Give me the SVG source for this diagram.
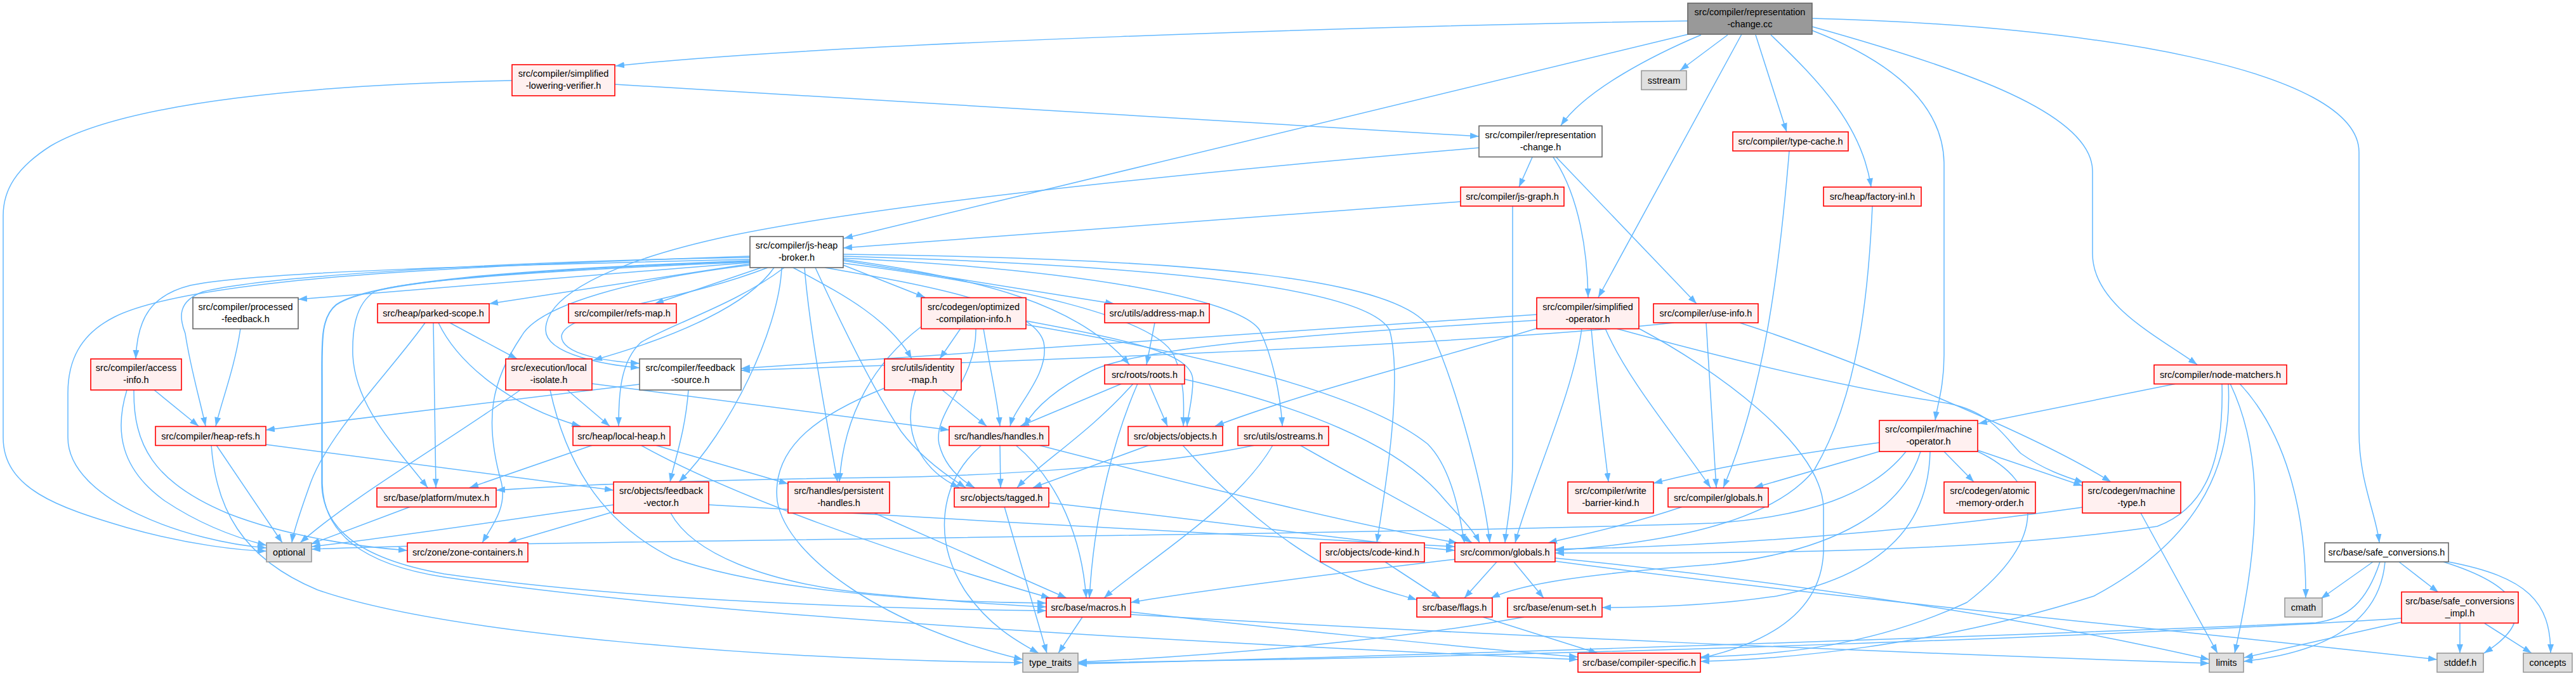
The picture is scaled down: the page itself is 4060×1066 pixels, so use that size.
<svg xmlns="http://www.w3.org/2000/svg" width="4060" height="1066" viewBox="0 0 4060 1066">
<style>
.n rect{stroke-width:1.6}
.rd rect{fill:#fff0f0;stroke:#ff0000}
.gy rect{fill:#e0e0e0;stroke:#999999}
.wh rect{fill:#ffffff;stroke:#666666}
.rt rect{fill:#999999;stroke:#666666}
text{font-family:"Liberation Sans",Arial,sans-serif;font-size:14.5px;text-anchor:middle;fill:#000000}
#edges path{fill:none;stroke:#63b8ff;stroke-width:1.5;marker-end:url(#ah)}
</style>
<defs>
<marker id="ah" viewBox="0 0 14 10" refX="14" refY="5" markerWidth="14" markerHeight="10" markerUnits="userSpaceOnUse" orient="auto"><path d="M0,0L14,5L0,10z" fill="#63b8ff"/></marker>
</defs>
<rect x="0" y="0" width="4060" height="1066" fill="#ffffff"/>
<g id="edges">
<path d="M2660,33 C2200,40 1300,68 970,104"/>
<path d="M2661,54 L1330,376"/>
<path d="M2681,55 C2610,85 2500,140 2460,198"/>
<path d="M2723,55 L2648,111"/>
<path d="M2745,54 L2519,469"/>
<path d="M2767,55 L2816,208"/>
<path d="M2791,55 C2870,130 2935,200 2949,295"/>
<path d="M2856,48 C2990,100 3064,170 3064,260 L3064,560 C3064,610 3053,640 3050,663"/>
<path d="M2856,42 C3100,110 3298,180 3298,270 L3298,400 C3298,480 3400,530 3463,575"/>
<path d="M2856,29 C3300,40 3718,110 3718,240 L3718,680 C3718,760 3745,810 3750,856"/>
<path d="M807,127 C500,133 200,160 80,230 C25,265 5,300 5,340 L5,690 C5,770 90,800 200,832 C300,860 380,868 420,869"/>
<path d="M969,133 L2331,215"/>
<path d="M2415,248 L2394,295"/>
<path d="M2448,248 C2490,310 2502,400 2503,469"/>
<path d="M2453,248 L2674,479"/>
<path d="M2331,233 C1900,270 1400,320 1150,372 C950,415 860,470 860,520 C860,560 960,576 1008,580"/>
<path d="M2820,238 C2805,420 2780,620 2716,769"/>
<path d="M2951,325 C2945,460 2930,620 2860,740 C2790,830 2600,858 2451,868"/>
<path d="M2302,318 L1329,391"/>
<path d="M2384,325 L2384,720 C2384,790 2374,830 2372,856"/>
<path d="M1182,404 C700,420 300,440 180,500 C125,528 107,570 107,620 L107,690 C107,790 300,855 420,864"/>
<path d="M1182,409 C800,418 400,428 300,450 C240,465 216,500 214,566"/>
<path d="M1182,406 C800,412 420,435 320,460 C280,475 282,500 292,526 C300,580 315,630 324,672"/>
<path d="M1182,414 L470,472"/>
<path d="M1182,411 C800,425 580,445 530,480 C505,500 507,540 507,600 L507,760 C507,830 560,880 700,905 C1000,948 1400,960 1649,963"/>
<path d="M1182,412 C800,426 580,446 530,481 C505,501 508,540 508,600 L508,760 C508,840 570,890 700,910 C1100,970 1800,1010 2487,1040"/>
<path d="M1182,413 C900,425 640,440 590,460 C560,480 555,520 556,560 C560,640 620,700 674,769"/>
<path d="M1182,416 L771,479"/>
<path d="M1200,422 L1032,479"/>
<path d="M1220,422 C1180,480 1070,530 935,568"/>
<path d="M1210,422 C1060,480 890,490 885,530 C885,560 960,570 1008,573"/>
<path d="M1236,422 C1160,480 1060,510 1010,540 C978,570 975,620 975,672"/>
<path d="M1329,418 L1458,469"/>
<path d="M1329,411 L1756,479"/>
<path d="M1250,422 C1320,460 1400,500 1437,566"/>
<path d="M1300,422 C1460,450 1630,480 1645,540 C1655,590 1600,640 1592,672"/>
<path d="M1268,422 C1275,510 1295,620 1320,760"/>
<path d="M1232,422 C1228,520 1150,680 1070,760"/>
<path d="M1285,422 C1330,520 1380,620 1420,680 C1450,720 1495,752 1522,769"/>
<path d="M1329,415 C1600,450 1820,500 1850,560 C1868,600 1866,640 1865,672"/>
<path d="M1329,409 C1550,440 1700,480 1780,575"/>
<path d="M1329,407 C1700,425 1950,470 1985,520 C2005,560 2018,620 2021,672"/>
<path d="M1329,404 C1800,418 2150,450 2190,520 C2212,600 2182,780 2170,856"/>
<path d="M1329,401 C1900,408 2210,440 2255,520 C2300,620 2340,780 2348,856"/>
<path d="M1182,418 C1000,440 850,480 822,530 C775,600 762,660 790,760 C800,800 775,830 760,856"/>
<path d="M379,518 C370,580 350,630 340,672"/>
<path d="M670,509 C620,580 520,680 490,760 C472,810 462,840 460,856"/>
<path d="M683,509 L687,769"/>
<path d="M691,509 C720,570 800,640 915,672"/>
<path d="M709,509 L815,566"/>
<path d="M243,615 L313,672"/>
<path d="M200,615 C180,680 190,740 260,790 C320,830 380,850 420,860"/>
<path d="M211,615 C210,700 240,760 360,810 C450,845 560,862 642,868"/>
<path d="M894,615 L961,672"/>
<path d="M933,605 L1496,678"/>
<path d="M867,615 C890,720 940,820 1060,880 C1200,930 1450,950 1649,951"/>
<path d="M820,615 C700,700 560,780 473,856"/>
<path d="M1008,606 L419,678"/>
<path d="M1085,615 C1080,680 1065,720 1056,760"/>
<path d="M1485,615 L1555,672"/>
<path d="M1443,615 C1420,680 1450,740 1512,769"/>
<path d="M1394,612 C1300,650 1215,700 1225,790 C1240,880 1400,990 1612,1040"/>
<path d="M1768,605 L1608,672"/>
<path d="M1786,605 C1720,680 1640,730 1603,769"/>
<path d="M1793,605 C1760,680 1725,800 1717,943"/>
<path d="M1811,605 L1840,672"/>
<path d="M1867,598 C2050,640 2200,700 2270,780 C2300,815 2322,835 2332,856"/>
<path d="M1820,509 L1807,575"/>
<path d="M1452,515 C1380,570 1330,650 1323,760"/>
<path d="M1514,518 L1481,566"/>
<path d="M1538,518 C1540,600 1470,650 1480,700 C1490,740 1520,760 1536,769"/>
<path d="M1550,518 C1560,580 1572,630 1576,672"/>
<path d="M1617,506 C1800,540 1880,560 1880,600 C1880,630 1872,655 1871,672"/>
<path d="M1617,512 C1900,560 2150,620 2250,700 C2290,740 2302,820 2308,856"/>
<path d="M2422,496 L1168,581"/>
<path d="M2422,505 C2100,525 1800,545 1720,585 C1660,615 1630,645 1614,672"/>
<path d="M2422,518 C2250,570 2050,620 1915,672"/>
<path d="M2508,518 C2515,600 2528,700 2535,760"/>
<path d="M2493,518 C2480,620 2410,770 2388,856"/>
<path d="M2530,518 C2565,600 2650,700 2696,769"/>
<path d="M2547,518 C2700,560 2900,610 3070,636 C3140,650 3160,690 3185,715 C3220,740 3255,752 3284,761"/>
<path d="M2583,518 C2700,580 2870,700 2874,800 L2874,870 C2870,980 2760,1020 2680,1038"/>
<path d="M2638,509 C2300,545 1600,570 1168,584"/>
<path d="M2689,509 L2705,769"/>
<path d="M2742,509 C2900,560 3200,680 3327,760"/>
<path d="M3430,605 L3118,668"/>
<path d="M3502,605 C3505,720 3480,800 3400,830 C3100,875 2700,872 2451,872"/>
<path d="M3512,605 C3520,750 3450,860 3300,940 C3050,1020 2800,1040 2680,1043"/>
<path d="M3515,605 C3560,700 3570,820 3522,1030"/>
<path d="M3530,605 C3600,680 3635,800 3634,943"/>
<path d="M2962,698 C2800,720 2700,738 2606,762"/>
<path d="M2962,712 L2765,769"/>
<path d="M3004,712 C2950,780 2850,815 2700,825 C2000,848 900,850 491,866"/>
<path d="M3027,712 C3000,800 2900,870 2700,890 C2500,905 2400,920 2350,943"/>
<path d="M3042,712 C3040,800 3000,900 2800,940 C2700,955 2600,958 2525,958"/>
<path d="M3064,712 L3111,760"/>
<path d="M3117,710 L3282,766"/>
<path d="M3117,712 C3220,760 3230,850 3100,950 C2950,1020 2800,1033 2680,1036"/>
<path d="M341,702 L445,856"/>
<path d="M333,702 C340,800 380,880 500,930 C700,1000 1200,1040 1612,1045"/>
<path d="M419,701 L967,773"/>
<path d="M934,702 L740,769"/>
<path d="M1010,702 C1150,780 1400,870 1655,943"/>
<path d="M1033,702 L1242,763"/>
<path d="M1547,702 C1480,760 1470,850 1520,930 C1560,990 1610,1015 1637,1030"/>
<path d="M1576,702 L1577,769"/>
<path d="M1601,702 C1670,760 1705,850 1712,943"/>
<path d="M1637,702 C1900,770 2150,830 2297,856"/>
<path d="M1811,702 L1628,769"/>
<path d="M1864,702 C1950,800 2050,880 2150,920 C2190,935 2215,940 2233,946"/>
<path d="M1978,702 C1800,740 1500,752 1380,753 C1100,757 900,765 782,773"/>
<path d="M2006,702 C1950,800 1800,890 1740,943"/>
<path d="M2049,702 C2150,760 2250,810 2320,856"/>
<path d="M967,796 C800,820 600,850 491,862"/>
<path d="M967,807 L800,856"/>
<path d="M1117,796 C1500,820 2000,845 2293,862"/>
<path d="M1057,809 C1090,870 1200,920 1380,937 C1500,948 1600,955 1649,957"/>
<path d="M1378,809 L1681,943"/>
<path d="M1583,799 L1650,1030"/>
<path d="M1653,793 C1900,820 2150,855 2293,868"/>
<path d="M2652,799 C2560,830 2480,846 2440,856"/>
<path d="M3282,800 C3000,840 2700,862 2451,866"/>
<path d="M3374,809 L3495,1030"/>
<path d="M2359,886 L2308,943"/>
<path d="M2386,886 L2433,943"/>
<path d="M2293,882 C2100,905 1900,930 1782,950"/>
<path d="M2451,880 C2800,915 3200,975 3482,1040"/>
<path d="M2451,885 C2900,945 3400,990 3841,1040"/>
<path d="M2183,886 L2270,943"/>
<path d="M1706,973 L1668,1030"/>
<path d="M1782,965 C2000,990 2300,1020 2487,1036"/>
<path d="M1782,969 C2300,1000 3000,1030 3482,1046"/>
<path d="M2337,973 L2518,1030"/>
<path d="M2402,973 C2200,1010 1900,1035 1699,1044"/>
<path d="M3740,886 L3658,944"/>
<path d="M3751,886 C3730,950 3700,975 3650,982 C3000,1010 2000,1040 1699,1047"/>
<path d="M3759,886 C3750,990 3650,1030 3536,1043"/>
<path d="M3781,886 L3843,934"/>
<path d="M3851,886 C3960,920 4010,970 3915,1030"/>
<path d="M3859,886 C3985,910 4020,950 4020,1030"/>
<path d="M3785,975 C3400,1000 2500,1035 1699,1045"/>
<path d="M3785,981 L3537,1037"/>
<path d="M3877,983 L3877,1030"/>
<path d="M3916,983 L3990,1030"/>
<path d="M647,799 L490,858"/>
</g>
<g id="n_cc" class="n rt"><rect x="2660" y="5" width="196" height="49"/><text x="2758" y="24">src/compiler/representation</text><text x="2758" y="43">-change.cc</text></g>
<g id="n_verifier" class="n rd"><rect x="807" y="102" width="162" height="49"/><text x="888" y="121">src/compiler/simplified</text><text x="888" y="140">-lowering-verifier.h</text></g>
<g id="n_sstream" class="n gy"><rect x="2587" y="111.5" width="71" height="30"/><text x="2622.5" y="131.5">sstream</text></g>
<g id="n_repchange" class="n wh"><rect x="2331" y="198.5" width="194" height="49"/><text x="2428" y="217.5">src/compiler/representation</text><text x="2428" y="236.5">-change.h</text></g>
<g id="n_typecache" class="n rd"><rect x="2731" y="208" width="182" height="30"/><text x="2822" y="228">src/compiler/type-cache.h</text></g>
<g id="n_jsgraph" class="n rd"><rect x="2302" y="295" width="163" height="30"/><text x="2383.5" y="315">src/compiler/js-graph.h</text></g>
<g id="n_factoryinl" class="n rd"><rect x="2874" y="295" width="154" height="30"/><text x="2951" y="315">src/heap/factory-inl.h</text></g>
<g id="n_broker" class="n wh"><rect x="1182" y="373" width="147" height="49"/><text x="1255.5" y="392">src/compiler/js-heap</text><text x="1255.5" y="411">-broker.h</text></g>
<g id="n_processed" class="n wh"><rect x="304" y="469.5" width="166" height="49"/><text x="387" y="488.5">src/compiler/processed</text><text x="387" y="507.5">-feedback.h</text></g>
<g id="n_parked" class="n rd"><rect x="595" y="479" width="176" height="30"/><text x="683" y="499">src/heap/parked-scope.h</text></g>
<g id="n_refsmap" class="n rd"><rect x="896" y="479" width="170" height="30"/><text x="981" y="499">src/compiler/refs-map.h</text></g>
<g id="n_optcomp" class="n rd"><rect x="1452" y="469.5" width="165" height="49"/><text x="1534.5" y="488.5">src/codegen/optimized</text><text x="1534.5" y="507.5">-compilation-info.h</text></g>
<g id="n_addrmap" class="n rd"><rect x="1741" y="479" width="165" height="30"/><text x="1823.5" y="499">src/utils/address-map.h</text></g>
<g id="n_simpop" class="n rd"><rect x="2422" y="469.5" width="161" height="49"/><text x="2502.5" y="488.5">src/compiler/simplified</text><text x="2502.5" y="507.5">-operator.h</text></g>
<g id="n_useinfo" class="n rd"><rect x="2606" y="479" width="165" height="30"/><text x="2688.5" y="499">src/compiler/use-info.h</text></g>
<g id="n_nodematch" class="n rd"><rect x="3395" y="575.5" width="209" height="30"/><text x="3499.5" y="595.5">src/compiler/node-matchers.h</text></g>
<g id="n_access" class="n rd"><rect x="143" y="566" width="143" height="49"/><text x="214.5" y="585">src/compiler/access</text><text x="214.5" y="604">-info.h</text></g>
<g id="n_localiso" class="n rd"><rect x="797" y="566" width="136" height="49"/><text x="865" y="585">src/execution/local</text><text x="865" y="604">-isolate.h</text></g>
<g id="n_fbsource" class="n wh"><rect x="1008" y="566" width="160" height="49"/><text x="1088" y="585">src/compiler/feedback</text><text x="1088" y="604">-source.h</text></g>
<g id="n_identmap" class="n rd"><rect x="1394" y="566" width="121" height="49"/><text x="1454.5" y="585">src/utils/identity</text><text x="1454.5" y="604">-map.h</text></g>
<g id="n_roots" class="n rd"><rect x="1741" y="575.5" width="126" height="30"/><text x="1804" y="595.5">src/roots/roots.h</text></g>
<g id="n_machop" class="n rd"><rect x="2962" y="663" width="155" height="49"/><text x="3039.5" y="682">src/compiler/machine</text><text x="3039.5" y="701">-operator.h</text></g>
<g id="n_heaprefs" class="n rd"><rect x="245" y="672.5" width="174" height="30"/><text x="332" y="692.5">src/compiler/heap-refs.h</text></g>
<g id="n_localheap" class="n rd"><rect x="903" y="672.5" width="153" height="30"/><text x="979.5" y="692.5">src/heap/local-heap.h</text></g>
<g id="n_handles" class="n rd"><rect x="1496" y="672.5" width="157" height="30"/><text x="1574.5" y="692.5">src/handles/handles.h</text></g>
<g id="n_objects" class="n rd"><rect x="1778" y="672.5" width="149" height="30"/><text x="1852.5" y="692.5">src/objects/objects.h</text></g>
<g id="n_ostreams" class="n rd"><rect x="1951" y="672.5" width="143" height="30"/><text x="2022.5" y="692.5">src/utils/ostreams.h</text></g>
<g id="n_mutex" class="n rd"><rect x="594" y="769.5" width="188" height="30"/><text x="688" y="789.5">src/base/platform/mutex.h</text></g>
<g id="n_fbvector" class="n rd"><rect x="967" y="760" width="150" height="49"/><text x="1042" y="779">src/objects/feedback</text><text x="1042" y="798">-vector.h</text></g>
<g id="n_persist" class="n rd"><rect x="1242" y="760" width="160" height="49"/><text x="1322" y="779">src/handles/persistent</text><text x="1322" y="798">-handles.h</text></g>
<g id="n_tagged" class="n rd"><rect x="1504" y="769.5" width="149" height="30"/><text x="1578.5" y="789.5">src/objects/tagged.h</text></g>
<g id="n_wbk" class="n rd"><rect x="2471" y="760" width="135" height="49"/><text x="2538.5" y="779">src/compiler/write</text><text x="2538.5" y="798">-barrier-kind.h</text></g>
<g id="n_cglobals" class="n rd"><rect x="2629" y="769.5" width="158" height="30"/><text x="2708" y="789.5">src/compiler/globals.h</text></g>
<g id="n_atomic" class="n rd"><rect x="3064" y="760" width="144" height="49"/><text x="3136" y="779">src/codegen/atomic</text><text x="3136" y="798">-memory-order.h</text></g>
<g id="n_mtype" class="n rd"><rect x="3282" y="760" width="155" height="49"/><text x="3359.5" y="779">src/codegen/machine</text><text x="3359.5" y="798">-type.h</text></g>
<g id="n_optional" class="n gy"><rect x="420" y="856" width="71" height="30"/><text x="455.5" y="876">optional</text></g>
<g id="n_zone" class="n rd"><rect x="642" y="856" width="190" height="30"/><text x="737" y="876">src/zone/zone-containers.h</text></g>
<g id="n_codekind" class="n rd"><rect x="2081" y="856" width="164" height="30"/><text x="2163" y="876">src/objects/code-kind.h</text></g>
<g id="n_globals" class="n rd"><rect x="2293" y="856" width="158" height="30"/><text x="2372" y="876">src/common/globals.h</text></g>
<g id="n_safeconv" class="n wh"><rect x="3664" y="856" width="195" height="30"/><text x="3761.5" y="876">src/base/safe_conversions.h</text></g>
<g id="n_cmath" class="n gy"><rect x="3601" y="943" width="59" height="30"/><text x="3630.5" y="963">cmath</text></g>
<g id="n_macros" class="n rd"><rect x="1649" y="943" width="133" height="30"/><text x="1715.5" y="963">src/base/macros.h</text></g>
<g id="n_flags" class="n rd"><rect x="2233" y="943" width="119" height="30"/><text x="2292.5" y="963">src/base/flags.h</text></g>
<g id="n_enumset" class="n rd"><rect x="2376" y="943" width="149" height="30"/><text x="2450.5" y="963">src/base/enum-set.h</text></g>
<g id="n_safeimpl" class="n rd"><rect x="3785" y="933.5" width="184" height="49"/><text x="3877" y="952.5">src/base/safe_conversions</text><text x="3877" y="971.5">_impl.h</text></g>
<g id="n_type_traits" class="n gy"><rect x="1612" y="1030" width="87" height="30"/><text x="1655.5" y="1050">type_traits</text></g>
<g id="n_compspec" class="n rd"><rect x="2487" y="1030" width="193" height="30"/><text x="2583.5" y="1050">src/base/compiler-specific.h</text></g>
<g id="n_limits" class="n gy"><rect x="3482" y="1030" width="54" height="30"/><text x="3509" y="1050">limits</text></g>
<g id="n_stddef" class="n gy"><rect x="3841" y="1030" width="73" height="30"/><text x="3877.5" y="1050">stddef.h</text></g>
<g id="n_concepts" class="n gy"><rect x="3977" y="1030" width="77" height="30"/><text x="4015.5" y="1050">concepts</text></g>
</svg>
